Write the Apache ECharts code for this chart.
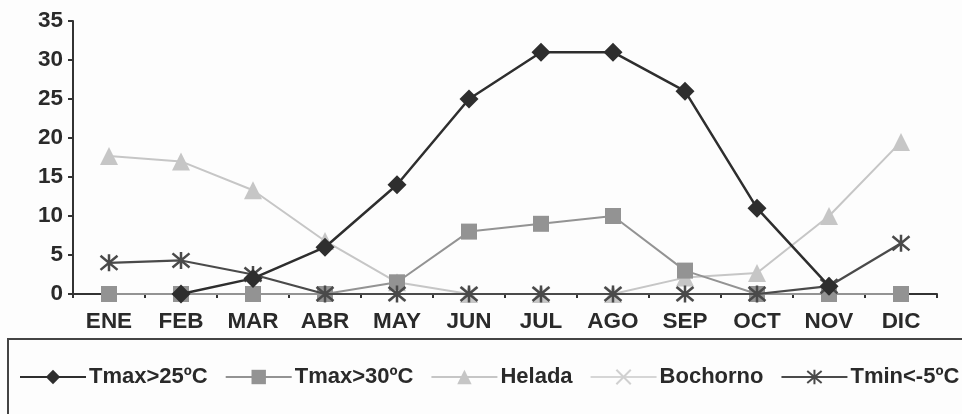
<!DOCTYPE html>
<html><head><meta charset="utf-8">
<script src="https://cdn.jsdelivr.net/npm/echarts@6/dist/echarts.min.js"></script>
<style>html,body{margin:0;padding:0;background:#fdfdfd}#c{width:962px;height:414px}</style>
</head><body><div id="c"></div>
<script>
const months = ['ENE','FEB','MAR','ABR','MAY','JUN','JUL','AGO','SEP','OCT','NOV','DIC'];
const yTicks = [0,5,10,15,20,25,30,35];
const tmax25 = [null,0,2,6,14,25,31,31,26,11,1,null];
const tmax30 = [0,0,0,0,1.5,8,9,10,3,0,0,0];
const helada = [17.7,17,13.3,6.8,1.5,0,0,0,2.1,2.7,10,19.5];
const bochorno = [0,0,0,0,0,0,0,0,0,0,0,0];
const tmin5 = [4,4.3,2.5,0,0,0,0,0,0,0,1,6.5];
const names = ['Tmax>25ºC','Tmax>30ºC','Helada','Bochorno','Tmin<-5ºC'];

const FONT = '"Liberation Sans", Arial, sans-serif';
const xPath = 'path://M0,0L10,10M10,0L0,10';
const starPath = 'path://M0,0L10,10M10,0L0,10M5,-1L5,11';

const chart = echarts.init(document.getElementById('c'), null, {renderer:'canvas'});
chart.setOption({
  backgroundColor: '#fdfdfd',
  animation: false,
  grid: {left:73, right:25, top:21, bottom:120, containLabel:false},
  graphic: [{type:'rect', shape:{x:8, y:339, width:970, height:90},
    style:{fill:'#fdfdfd', stroke:'#444', lineWidth:2}, z:-1}],
  legend: {
    left: 19, top: 366, width: 960, padding: 0, itemWidth: 66, itemHeight: 18, itemGap: 17,
    textStyle: {fontFamily: FONT, fontWeight:'bold', fontSize:22, color:'#2a2a2a', padding:[0,0,0,-2]},
    data: names
  },
  xAxis: {
    type:'category', data: months, boundaryGap:true,
    axisLine:{lineStyle:{color:'#333', width:2}},
    axisTick:{show:true, length:4, lineStyle:{color:'#333', width:2}},
    axisLabel:{fontFamily:FONT, fontWeight:'bold', fontSize:22.5, color:'#2a2a2a', margin:16}
  },
  yAxis: {
    type:'value', min:yTicks[0], max:yTicks[yTicks.length-1], interval:5,
    axisLine:{show:true, lineStyle:{color:'#333', width:2}},
    axisTick:{show:true, length:5, lineStyle:{color:'#333', width:2}},
    splitLine:{show:false},
    axisLabel:{fontFamily:FONT, fontWeight:'bold', fontSize:22.5, color:'#2a2a2a', margin:10}
  },
  series: [
    {name:names[2], type:'line', data:helada, symbol:'triangle', symbolSize:18,
     lineStyle:{color:'#c6c6c6', width:2}, itemStyle:{color:'#c6c6c6'}, z:2},
    {name:names[3], type:'line', data:bochorno, symbol:xPath, symbolSize:14,
     lineStyle:{color:'#d6d6d6', width:2}, itemStyle:{color:'#d6d6d6', borderColor:'#d0d0d0', borderWidth:2}, z:2},
    {name:names[1], type:'line', data:tmax30, symbol:'rect', symbolSize:16,
     lineStyle:{color:'#939393', width:2}, itemStyle:{color:'#939393'}, z:3},
    {name:names[4], type:'line', data:tmin5, symbol:starPath, symbolSize:17,
     lineStyle:{color:'#4a4a4a', width:2.2}, itemStyle:{color:'#4a4a4a', borderColor:'#4a4a4a', borderWidth:2.5}, z:4},
    {name:names[0], type:'line', data:tmax25, symbol:'diamond', symbolSize:19, connectNulls:false,
     lineStyle:{color:'#2e2e2e', width:2.5}, itemStyle:{color:'#2e2e2e'}, z:5}
  ]
});
</script></body></html>
